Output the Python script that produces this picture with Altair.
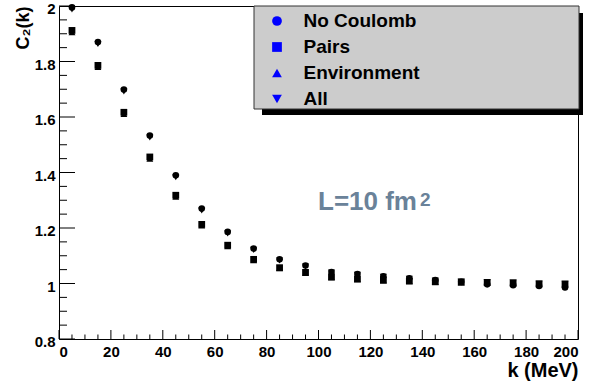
import altair as alt
import pandas as pd

# ---- data ----
k = [5, 15, 25, 35, 45, 55, 65, 75, 85, 95, 105, 115, 125, 135, 145, 155, 165, 175, 185, 195]
no_coulomb = [1.995, 1.870, 1.699, 1.533, 1.390, 1.270, 1.186, 1.126, 1.087, 1.065,
              1.041, 1.034, 1.026, 1.019, 1.012, 1.006, 0.997, 0.994, 0.991, 0.986]
pairs = [1.912, 1.786, 1.617, 1.456, 1.318, 1.213, 1.138, 1.087, 1.057, 1.040,
         1.024, 1.016, 1.012, 1.009, 1.006, 1.005, 1.004, 1.002, 0.999, 0.998]
environment = [1.905, 1.780, 1.611, 1.450, 1.313, 1.209, 1.134, 1.084, 1.055, 1.038,
               1.022, 1.015, 1.011, 1.008, 1.005, 1.004, 1.002, 1.000, 0.997, 0.996]
all_effects = [1.988, 1.863, 1.692, 1.526, 1.383, 1.263, 1.180, 1.121, 1.083, 1.061,
               1.039, 1.031, 1.024, 1.017, 1.011, 1.007, 1.004, 1.003, 0.999, 0.999]
errors = [0.002, 0.002, 0.002, 0.003, 0.003, 0.003, 0.004, 0.004, 0.004, 0.005,
          0.005, 0.006, 0.006, 0.006, 0.007, 0.007, 0.008, 0.008, 0.009, 0.010]

series_names = ["No Coulomb", "Pairs", "Environment", "All"]
series_shapes = ["circle", "square", "triangle-up", "triangle-down"]
series_values = [no_coulomb, pairs, environment, all_effects]

x_major = [0, 20, 40, 60, 80, 100, 120, 140, 160, 180, 200]
x_minor = [5, 10, 15, 25, 30, 35, 45, 50, 55, 65, 70, 75, 85, 90, 95, 105, 110, 115,
           125, 130, 135, 145, 150, 155, 165, 170, 175, 185, 190, 195]
y_major = [0.8, 1.0, 1.2, 1.4, 1.6, 1.8, 2.0]
y_minor = [0.85, 0.9, 0.95, 1.05, 1.1, 1.15, 1.25, 1.3, 1.35, 1.45, 1.5, 1.55,
           1.65, 1.7, 1.75, 1.85, 1.9, 1.95]

x_title = "k (MeV)"
y_title = "C₂(k)"
note_main = "L=10 fm"
note_sup = "2"

rows = []
for name, vals in zip(series_names, series_values):
    for kk, v, e in zip(k, vals, errors):
        rows.append({"k": kk, "c2": v, "lo": v - e, "hi": v + e, "series": name})
df = pd.DataFrame(rows)
legend_df = pd.DataFrame({"series": series_names})

W, H = 519, 333
FONT = "Liberation Sans"

xscale = alt.Scale(domain=[0, 200], nice=False, zero=False)
yscale = alt.Scale(domain=[0.8, 2.0], nice=False, zero=False)
shape_scale = alt.Scale(domain=series_names, range=series_shapes)

one = pd.DataFrame({"a": [0]})

shadow = alt.Chart(one).mark_rect(color="black").encode(
    x=alt.value(203), x2=alt.value(524), y=alt.value(7), y2=alt.value(109))
box = alt.Chart(one).mark_rect(fill="#cccccc", stroke="#333333", strokeWidth=1).encode(
    x=alt.value(195), x2=alt.value(520), y=alt.value(0), y2=alt.value(103))

errbars = alt.Chart(df).mark_rule(color="black", strokeWidth=1).encode(
    x=alt.X("k:Q", scale=xscale, axis=None),
    y=alt.Y("lo:Q", scale=yscale, axis=None),
    y2="hi:Q")

points = alt.Chart(df).mark_point(filled=True, opacity=1, color="black").encode(
    x=alt.X("k:Q", scale=xscale,
            axis=alt.Axis(orient="bottom", values=x_major, ticks=False, tickSize=0,
                          domain=False, labelPadding=5, title=x_title,
                          titleX=W, titleY=37, titleAlign="right", titleAnchor="end",
                          titleBaseline="alphabetic", titleFontSize=20)),
    y=alt.Y("c2:Q", scale=yscale,
            axis=alt.Axis(orient="left", values=y_major, format=".1~f", ticks=False,
                          tickSize=0, domain=False, labelPadding=4, labelOffset=2.5,
                          title=y_title,
                          titleX=-31, titleY=0, titleAngle=270, titleAlign="right",
                          titleAnchor="end", titleBaseline="alphabetic", titleFontSize=18)),
    shape=alt.Shape("series:N", scale=shape_scale, legend=None),
    size=alt.Size("series:N",
                  scale=alt.Scale(domain=series_names, range=[44, 50, 72, 72]),
                  legend=None))

# legend-only layer (blue symbols, as in the reference)
legend_layer = alt.Chart(legend_df).mark_point(
    filled=True, size=95, opacity=0, color="#0000ff").encode(
    shape=alt.Shape("series:N", scale=shape_scale,
                    legend=alt.Legend(orient="none", legendX=208.5, legendY=5.5, title=None,
                                      padding=0, labelFont=FONT, labelFontSize=19,
                                      labelFontWeight="bold", labelColor="black",
                                      labelOffset=17, rowPadding=6.0, symbolSize=95,
                                      symbolOpacity=1, symbolStrokeWidth=0)))

label_main = alt.Chart(one).mark_text(align="left", baseline="alphabetic", font=FONT,
                                      fontSize=26, fontWeight="bold", color="#6a8299").encode(
    x=alt.value(259), y=alt.value(204), text=alt.value(note_main))
label_sup = alt.Chart(one).mark_text(align="left", baseline="alphabetic", font=FONT,
                                     fontSize=19, fontWeight="bold", color="#6a8299").encode(
    x=alt.value(361), y=alt.value(200), text=alt.value(note_sup))

def xticks(vals, length):
    return alt.Chart(pd.DataFrame({"t": vals})).mark_rule(color="black", strokeWidth=1).encode(
        x=alt.X("t:Q", scale=xscale, axis=None),
        y=alt.value(H), y2=alt.value(H - length))

def yticks(vals, length):
    return alt.Chart(pd.DataFrame({"t": vals})).mark_rule(color="black", strokeWidth=1).encode(
        y=alt.Y("t:Q", scale=yscale, axis=None),
        x=alt.value(0), x2=alt.value(length))

chart = alt.layer(
    shadow, box, errbars, points, legend_layer, label_main, label_sup,
    xticks(x_major, 9), xticks(x_minor, 4.5), yticks(y_major, 16), yticks(y_minor, 8)
).resolve_axis(
    x="independent", y="independent"
).resolve_legend(
    shape="independent", size="independent"
).properties(
    width=W, height=H,
    autosize=alt.AutoSizeParams(type="none"),
    padding={"left": 59, "top": 6, "right": 25, "bottom": 43},
    background="white",
).configure_view(
    stroke="black", strokeWidth=1
).configure_axis(
    labelFont=FONT, labelFontWeight="bold", labelFontSize=15, labelColor="black",
    titleFont=FONT, titleFontWeight="bold", titleColor="black", grid=False
)

chart.save("out.html", embed_options={"renderer": "svg", "actions": False})
